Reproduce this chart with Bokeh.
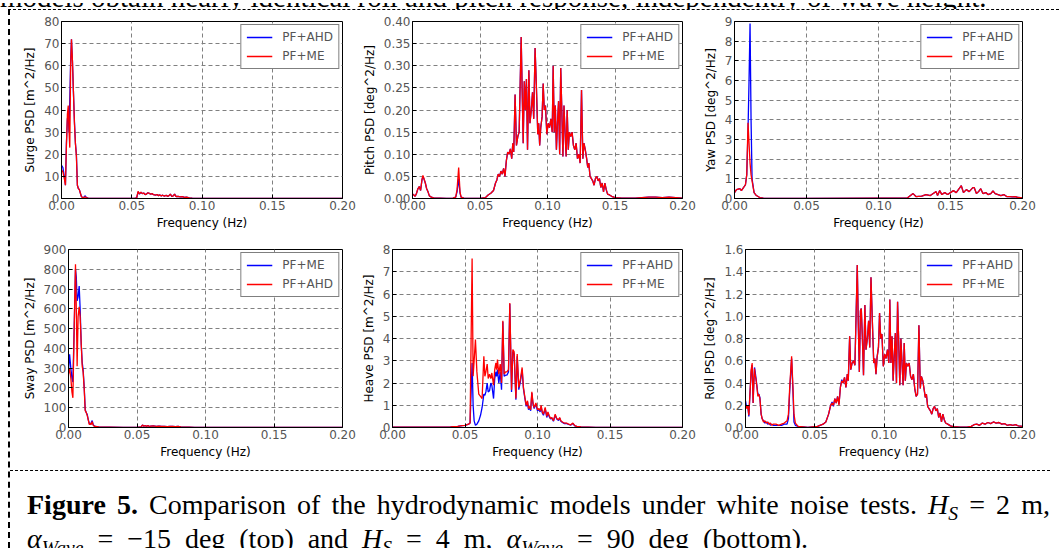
from bokeh.plotting import figure
from bokeh.models import Range1d, FixedTicker, NumeralTickFormatter, Legend, LegendItem, Div, Spacer
from bokeh.layouts import row, column
from bokeh.embed import file_html
from bokeh.resources import INLINE

# ---------------- data ----------------
x_ticks = [0.0, 0.05, 0.10, 0.15, 0.20]

surge_f = [0.0, 0.001, 0.002, 0.0028, 0.0035, 0.0042, 0.0048, 0.0054, 0.0059, 0.0065, 0.0071, 0.0078,
           0.0085, 0.0092, 0.0099, 0.0106, 0.0113, 0.012, 0.0127, 0.0134, 0.0141, 0.0148, 0.0155, 0.0162,
           0.0169, 0.0176, 0.019, 0.022, 0.03, 0.04, 0.05, 0.052, 0.0535, 0.0545, 0.0555, 0.0565, 0.0575,
           0.0585, 0.0595, 0.0605, 0.0615, 0.0625, 0.0635, 0.0645, 0.0655, 0.067, 0.068, 0.069, 0.070,
           0.071, 0.072, 0.073, 0.0745, 0.0755, 0.0765, 0.0775, 0.0785, 0.0795, 0.0805, 0.0815, 0.083,
           0.0845, 0.086, 0.0875, 0.089, 0.091, 0.093, 0.097, 0.12, 0.16, 0.2]
surge_ahd = [15, 14, 10, 6, 25, 36, 38, 30, 45, 62, 72, 62, 48, 35, 25, 20, 6, 4.5, 4, 2.5, 1, 0.5, 0.4,
             0.8, 1.2, 0.5, 0.2, 0.1, 0.05, 0.05, 0.05, 0.1, 0.3, 3.0, 2.0, 2.8, 2.2, 2.5, 1.8, 2.0, 2.6,
             2.3, 2.0, 2.2, 1.7, 1.5, 1.8, 1.3, 1.6, 1.2, 1.5, 1.1, 1.4, 1.0, 1.3, 2.0, 0.9, 1.2, 2.0, 0.9,
             1.0, 0.7, 0.8, 0.5, 0.6, 0.3, 0.15, 0.05, 0.02, 0.01, 0.01]
surge_me = [13, 12, 9, 6, 24, 38, 42, 30, 23, 60, 72, 62, 48, 34, 25, 19, 6, 4.5, 4, 2.5, 1, 0.5, 0.3,
            0.6, 0.8, 0.4, 0.2, 0.1, 0.05, 0.05, 0.05, 0.1, 0.3, 3.2, 2.1, 2.9, 2.2, 2.5, 1.8, 2.0, 2.6,
            2.3, 2.0, 2.2, 1.7, 1.5, 1.8, 1.3, 1.6, 1.2, 1.5, 1.1, 1.4, 1.0, 1.3, 2.0, 0.9, 1.2, 2.0, 0.9,
            1.0, 0.7, 0.8, 0.5, 0.6, 0.3, 0.15, 0.05, 0.02, 0.01, 0.01]
surge_yticks = [0, 10, 20, 30, 40, 50, 60, 70, 80]

pitch_f = [0.0, 0.001, 0.002, 0.003, 0.004, 0.005, 0.006, 0.007, 0.0077, 0.0085, 0.0095, 0.0105, 0.0115,
           0.0125, 0.014, 0.016, 0.020, 0.025, 0.030, 0.032, 0.033, 0.0342, 0.0352, 0.036, 0.038, 0.045,
           0.050, 0.054, 0.056, 0.058, 0.060, 0.0615, 0.0625, 0.0635, 0.0645, 0.0655, 0.0665, 0.0675,
           0.0685, 0.0695, 0.0705, 0.0715, 0.0725, 0.0735, 0.0743, 0.0750, 0.0760, 0.0770, 0.0780,
           0.0790, 0.0805, 0.0812, 0.0820, 0.0828, 0.0836, 0.0844, 0.0852, 0.0862, 0.0870, 0.0880,
           0.0889, 0.0898, 0.0908, 0.0918, 0.0928, 0.0935, 0.0942, 0.0950, 0.0960, 0.0968, 0.0976,
           0.0985, 0.0995, 0.1005, 0.1015, 0.1025, 0.1035, 0.1042, 0.1050, 0.1058, 0.1066, 0.1074,
           0.1082, 0.1090, 0.1098, 0.1106, 0.1114, 0.1122, 0.1130, 0.1138, 0.1146, 0.1154, 0.1162,
           0.1172, 0.1182, 0.1192, 0.1202, 0.1212, 0.1222, 0.1232, 0.1242, 0.1252, 0.1262, 0.1270,
           0.1280, 0.1290, 0.1298, 0.1306, 0.1315, 0.1325, 0.1335, 0.1345, 0.1355, 0.1365, 0.1375,
           0.1385, 0.1395, 0.1405, 0.1415, 0.1425, 0.1435, 0.1445, 0.1460, 0.1480, 0.1500, 0.1550,
           0.1600, 0.1650, 0.1700, 0.1750, 0.1800, 0.1850, 0.1900, 0.1950, 0.2000]
pitch_ahd = [0.010, 0.008, 0.005, 0.012, 0.022, 0.027, 0.018, 0.042, 0.050, 0.044, 0.035, 0.022, 0.015,
             0.006, 0.003, 0.001, 0.001, 0.000, 0.001, 0.003, 0.015, 0.045, 0.012, 0.003, 0.001, 0.000,
             0.000, 0.002, 0.008, 0.012, 0.018, 0.035, 0.042, 0.055, 0.050, 0.062, 0.055, 0.068, 0.050,
             0.085, 0.105, 0.100, 0.112, 0.090, 0.125, 0.105, 0.235, 0.120, 0.140, 0.150, 0.365, 0.250,
             0.125, 0.265, 0.200, 0.270, 0.110, 0.290, 0.170, 0.200, 0.240, 0.180, 0.340, 0.250, 0.145,
             0.170, 0.120, 0.160, 0.185, 0.260, 0.200, 0.210, 0.145, 0.170, 0.160, 0.180, 0.150, 0.300,
             0.150, 0.210, 0.110, 0.170, 0.220, 0.100, 0.295, 0.200, 0.095, 0.210, 0.150, 0.095, 0.200,
             0.110, 0.150, 0.140, 0.150, 0.120, 0.110, 0.125, 0.090, 0.100, 0.080, 0.245, 0.090, 0.125,
             0.110, 0.090, 0.070, 0.080, 0.050, 0.045, 0.040, 0.030, 0.045, 0.050, 0.040, 0.045, 0.025,
             0.035, 0.015, 0.035, 0.020, 0.010, 0.008, 0.004, 0.002, 0.001, 0.001, 0.001, 0.002, 0.003,
             0.003, 0.002, 0.003, 0.002, 0.001]
pitch_me = [0.010, 0.008, 0.005, 0.012, 0.022, 0.027, 0.018, 0.042, 0.052, 0.045, 0.035, 0.022, 0.015,
            0.006, 0.003, 0.001, 0.001, 0.000, 0.001, 0.003, 0.020, 0.070, 0.015, 0.003, 0.001, 0.000,
            0.000, 0.002, 0.008, 0.012, 0.018, 0.035, 0.042, 0.055, 0.050, 0.062, 0.055, 0.068, 0.050,
            0.085, 0.105, 0.100, 0.112, 0.090, 0.125, 0.105, 0.235, 0.120, 0.140, 0.150, 0.365, 0.250,
            0.125, 0.265, 0.200, 0.270, 0.110, 0.290, 0.170, 0.200, 0.240, 0.180, 0.340, 0.250, 0.145,
            0.170, 0.120, 0.160, 0.185, 0.260, 0.200, 0.210, 0.145, 0.170, 0.160, 0.180, 0.150, 0.300,
            0.150, 0.210, 0.110, 0.170, 0.220, 0.100, 0.295, 0.200, 0.095, 0.210, 0.150, 0.095, 0.200,
            0.110, 0.150, 0.140, 0.150, 0.120, 0.110, 0.125, 0.090, 0.100, 0.080, 0.245, 0.090, 0.125,
            0.110, 0.090, 0.070, 0.080, 0.050, 0.045, 0.040, 0.030, 0.045, 0.050, 0.040, 0.045, 0.025,
            0.035, 0.015, 0.035, 0.020, 0.010, 0.008, 0.004, 0.002, 0.001, 0.001, 0.001, 0.002, 0.003,
            0.003, 0.002, 0.003, 0.002, 0.001]
pitch_yticks = [0.0, 0.05, 0.10, 0.15, 0.20, 0.25, 0.30, 0.35, 0.40]

yaw_f = [0.0, 0.0014, 0.0037, 0.0048, 0.0067, 0.0076, 0.0085, 0.0094, 0.0101, 0.0108, 0.0115, 0.0122,
         0.0136, 0.0152, 0.0175, 0.020, 0.05, 0.10, 0.120, 0.124, 0.126, 0.130, 0.133, 0.136, 0.138,
         0.140, 0.141, 0.1425, 0.144, 0.146, 0.148, 0.150, 0.152, 0.154, 0.1555, 0.1575, 0.159, 0.161,
         0.163, 0.1655, 0.1665, 0.168, 0.1695, 0.171, 0.1725, 0.1745, 0.176, 0.178, 0.1795, 0.181,
         0.183, 0.185, 0.187, 0.189, 0.191, 0.193, 0.195, 0.197, 0.200]
yaw_ahd = [0.3, 0.45, 0.5, 0.4, 0.6, 0.7, 1.2, 3.5, 6.0, 8.9, 4.0, 1.0, 0.3, 0.15, 0.05, 0.02, 0.01,
           0.02, 0.02, 0.25, 0.1, 0.12, 0.2, 0.15, 0.25, 0.35, 0.15, 0.4, 0.2, 0.3, 0.2, 0.3, 0.4, 0.3,
           0.45, 0.65, 0.3, 0.45, 0.35, 0.55, 0.55, 0.25, 0.35, 0.5, 0.25, 0.3, 0.2, 0.25, 0.38, 0.25,
           0.2, 0.15, 0.2, 0.1, 0.1, 0.08, 0.1, 0.05, 0.03]
yaw_me = [0.3, 0.45, 0.5, 0.4, 0.6, 0.7, 1.2, 3.85, 2.8, 1.8, 1.2, 0.9, 0.3, 0.15, 0.05, 0.02, 0.01,
          0.02, 0.02, 0.25, 0.1, 0.12, 0.2, 0.15, 0.25, 0.35, 0.15, 0.4, 0.2, 0.3, 0.2, 0.3, 0.4, 0.3,
          0.45, 0.65, 0.3, 0.45, 0.35, 0.55, 0.55, 0.25, 0.35, 0.5, 0.25, 0.3, 0.2, 0.25, 0.38, 0.25,
          0.2, 0.15, 0.2, 0.1, 0.1, 0.08, 0.1, 0.05, 0.03]
yaw_yticks = [0, 1, 2, 3, 4, 5, 6, 7, 8, 9]

sway_f = [0.0, 0.0008, 0.0017, 0.0025, 0.0032, 0.0042, 0.0051, 0.0057, 0.0063, 0.0070, 0.0078, 0.0085,
          0.0093, 0.0100, 0.0107, 0.0115, 0.0122, 0.0130, 0.0137, 0.0144, 0.0152, 0.0159, 0.0166, 0.0173,
          0.0180, 0.0188, 0.0198, 0.022, 0.026, 0.03, 0.04, 0.05, 0.053, 0.054, 0.055, 0.056, 0.057,
          0.058, 0.059, 0.06, 0.062, 0.064, 0.066, 0.068, 0.07, 0.072, 0.074, 0.076, 0.078, 0.08, 0.082,
          0.085, 0.088, 0.092, 0.1, 0.12, 0.15, 0.18, 0.2]
sway_me = [290, 370, 300, 250, 230, 520, 800, 760, 640, 660, 715, 600, 420, 330, 290, 200, 90, 75, 65,
           40, 20, 15, 25, 35, 15, 8, 5, 3, 2, 2, 1, 1, 3, 12, 7, 9, 6, 10, 5, 7, 8, 6, 7, 5, 6, 4, 5, 6,
           4, 5, 3, 2, 2, 1, 1, 1, 0.5, 0.5, 0.5]
sway_ahd = [270, 300, 250, 180, 150, 520, 825, 600, 310, 560, 610, 560, 420, 310, 280, 190, 85, 75, 60,
            40, 15, 20, 15, 30, 12, 6, 5, 3, 2, 2, 1, 1, 3, 12, 7, 9, 6, 10, 5, 7, 8, 6, 7, 5, 6, 4, 5, 6,
            4, 5, 3, 2, 2, 1, 1, 1, 0.5, 0.5, 0.5]
sway_yticks = [0, 100, 200, 300, 400, 500, 600, 700, 800, 900]

heave_f = [0.0, 0.01, 0.02, 0.03, 0.04, 0.045, 0.048, 0.0500, 0.0525, 0.0535, 0.0549, 0.0556, 0.0563,
           0.0572, 0.0582, 0.0595, 0.0607, 0.0618, 0.0630, 0.0637, 0.0644, 0.0653, 0.0660, 0.0669,
           0.0678, 0.0685, 0.0697, 0.0705, 0.0713, 0.0718, 0.0724, 0.0733, 0.0743, 0.0752, 0.0761,
           0.0770, 0.0780, 0.0789, 0.0800, 0.0809, 0.0821, 0.0830, 0.0839, 0.0851, 0.0860, 0.0871,
           0.0883, 0.0894, 0.0903, 0.0912, 0.0922, 0.0931, 0.0938, 0.0945, 0.0953, 0.0961, 0.0969,
           0.0977, 0.0989, 0.1000, 0.1010, 0.1018, 0.1025, 0.1033, 0.1041, 0.1053, 0.1064, 0.1072,
           0.1080, 0.1090, 0.1099, 0.1110, 0.1122, 0.1133, 0.1145, 0.1153, 0.1161, 0.1172, 0.1184,
           0.1200, 0.1214, 0.1230, 0.1244, 0.1257, 0.1271, 0.130, 0.135, 0.14, 0.16, 0.2]
heave_ahd = [0.02, 0.02, 0.02, 0.02, 0.03, 0.05, 0.08, 0.10, 0.15, 0.2, 2.9, 1.0, 0.3, 0.1, 0.15, 0.3,
             0.55, 0.9, 1.5, 1.45, 1.6, 2.0, 1.6, 1.65, 2.0, 1.9, 1.3, 2.2, 2.5, 2.3, 2.6, 2.0, 2.5, 1.7,
             4.75, 2.3, 2.35, 2.35, 2.5, 5.55, 1.6, 3.4, 3.3, 1.25, 3.2, 1.7, 2.1, 2.6, 1.75, 1.35, 0.95,
             1.15, 0.8, 0.9, 0.75, 1.55, 1.05, 0.85, 1.05, 0.75, 0.8, 0.7, 0.95, 0.65, 0.55, 0.85, 0.45,
             0.65, 0.5, 0.38, 0.42, 0.28, 0.55, 0.38, 0.32, 0.42, 0.28, 0.23, 0.18, 0.18, 0.14, 0.11,
             0.18, 0.07, 0.05, 0.03, 0.02, 0.01, 0.01, 0.01]
heave_me = [0.02, 0.02, 0.02, 0.02, 0.03, 0.05, 0.08, 0.10, 0.15, 0.2, 7.6, 2.3, 3.0, 3.95, 2.5, 1.5,
            1.4, 1.3, 3.2, 2.3, 2.5, 2.85, 2.2, 2.4, 2.2, 2.45, 1.9, 2.6, 2.9, 2.6, 3.05, 2.4, 2.85, 2.0,
            4.8, 2.4, 2.5, 2.5, 2.6, 5.6, 1.7, 3.5, 3.4, 1.3, 3.3, 1.8, 2.2, 2.7, 1.8, 1.4, 1.0, 1.2,
            0.85, 0.95, 0.8, 1.6, 1.1, 0.9, 1.1, 0.8, 0.85, 0.75, 1.0, 0.7, 0.6, 0.9, 0.5, 0.7, 0.55,
            0.4, 0.45, 0.3, 0.6, 0.4, 0.35, 0.45, 0.3, 0.25, 0.2, 0.2, 0.15, 0.12, 0.2, 0.08, 0.05,
            0.03, 0.02, 0.01, 0.01, 0.01]
heave_yticks = [0, 1, 2, 3, 4, 5, 6, 7, 8]

roll_f = [0.0, 0.0008, 0.0016, 0.0024, 0.0032, 0.0041, 0.0048, 0.0055, 0.0060, 0.0065, 0.0070, 0.0075,
          0.0082, 0.0089, 0.0096, 0.0104, 0.0113, 0.0120, 0.0130, 0.0140, 0.0150, 0.0160, 0.0170,
          0.0180, 0.0190, 0.0200, 0.0220, 0.0240, 0.0260, 0.0280, 0.0300, 0.0310, 0.0320, 0.0333,
          0.0342, 0.0350, 0.0360, 0.0380, 0.0450, 0.0520, 0.0560, 0.0580, 0.0600, 0.0615, 0.0625,
          0.0635, 0.0645, 0.0655, 0.0665, 0.0675, 0.0685, 0.0695, 0.0705, 0.0715, 0.0725, 0.0735,
          0.0742, 0.0752, 0.0760, 0.0770, 0.0780, 0.0790, 0.0807, 0.0814, 0.0822, 0.0830, 0.0836,
          0.0844, 0.0852, 0.0862, 0.0870, 0.0880, 0.0889, 0.0897, 0.0906, 0.0916, 0.0926, 0.0934,
          0.0942, 0.0950, 0.0960, 0.0968, 0.0976, 0.0985, 0.0995, 0.1005, 0.1015, 0.1025, 0.1035,
          0.1042, 0.1050, 0.1058, 0.1066, 0.1074, 0.1082, 0.1090, 0.1098, 0.1106, 0.1114, 0.1122,
          0.1130, 0.1138, 0.1146, 0.1154, 0.1162, 0.1172, 0.1182, 0.1192, 0.1202, 0.1212, 0.1222,
          0.1232, 0.1242, 0.1252, 0.1262, 0.1270, 0.1280, 0.1290, 0.1298, 0.1306, 0.1315, 0.1325,
          0.1335, 0.1345, 0.1355, 0.1365, 0.1375, 0.1385, 0.1395, 0.1405, 0.1415, 0.1425, 0.1435,
          0.1445, 0.1460, 0.1480, 0.1500, 0.1550, 0.1600, 0.1630, 0.1650, 0.1670, 0.1690, 0.1710,
          0.1730, 0.1750, 0.1770, 0.1790, 0.1810, 0.1830, 0.1850, 0.1870, 0.1890, 0.1910, 0.1930,
          0.1950, 0.1970, 0.2000]
roll_ahd = [0.24, 0.18, 0.20, 0.10, 0.30, 0.50, 0.56, 0.22, 0.40, 0.54, 0.50, 0.45, 0.38, 0.30, 0.30,
            0.27, 0.12, 0.08, 0.06, 0.04, 0.05, 0.03, 0.04, 0.02, 0.03, 0.02, 0.02, 0.02, 0.02, 0.03,
            0.03, 0.08, 0.35, 0.62, 0.35, 0.05, 0.02, 0.01, 0.00, 0.01, 0.03, 0.05, 0.12, 0.20, 0.23,
            0.19, 0.26, 0.22, 0.28, 0.21, 0.36, 0.43, 0.40, 0.45, 0.36, 0.48, 0.42, 0.82, 0.52, 0.58,
            0.60, 0.56, 1.46, 0.95, 0.50, 1.05, 1.07, 0.80, 0.47, 1.10, 0.70, 0.80, 0.96, 0.72, 1.35,
            0.95, 0.58, 0.62, 0.48, 0.63, 0.72, 1.03, 0.80, 0.84, 0.55, 0.66, 0.62, 0.70, 0.58, 1.15,
            0.58, 0.82, 0.42, 0.65, 0.85, 0.40, 1.13, 0.78, 0.38, 0.80, 0.58, 0.38, 0.76, 0.42, 0.58,
            0.55, 0.58, 0.46, 0.43, 0.48, 0.35, 0.28, 0.30, 0.92, 0.35, 0.46, 0.42, 0.34, 0.27, 0.30,
            0.19, 0.17, 0.15, 0.12, 0.17, 0.19, 0.15, 0.17, 0.09, 0.13, 0.05, 0.12, 0.07, 0.04, 0.03,
            0.015, 0.008, 0.003, 0.004, 0.010, 0.025, 0.030, 0.020, 0.040, 0.030, 0.045, 0.035, 0.050,
            0.040, 0.045, 0.030, 0.035, 0.020, 0.025, 0.020, 0.025, 0.015, 0.010]
roll_me = [0.20, 0.17, 0.20, 0.11, 0.30, 0.52, 0.58, 0.22, 0.40, 0.53, 0.47, 0.44, 0.37, 0.28, 0.30,
           0.26, 0.12, 0.08, 0.05, 0.06, 0.04, 0.05, 0.03, 0.04, 0.02, 0.03, 0.03, 0.02, 0.03, 0.04,
           0.06, 0.12, 0.38, 0.64, 0.38, 0.12, 0.04, 0.01, 0.00, 0.01, 0.03, 0.05, 0.12, 0.20, 0.22,
           0.20, 0.26, 0.22, 0.28, 0.20, 0.36, 0.42, 0.40, 0.45, 0.36, 0.48, 0.42, 0.82, 0.52, 0.58,
           0.60, 0.56, 1.46, 0.95, 0.50, 1.05, 1.07, 0.80, 0.47, 1.10, 0.70, 0.80, 0.96, 0.72, 1.35,
           0.95, 0.58, 0.62, 0.48, 0.63, 0.72, 1.03, 0.80, 0.84, 0.55, 0.66, 0.62, 0.70, 0.58, 1.15,
           0.58, 0.82, 0.42, 0.65, 0.85, 0.40, 1.13, 0.78, 0.38, 0.80, 0.58, 0.38, 0.76, 0.42, 0.58,
           0.55, 0.58, 0.46, 0.43, 0.48, 0.35, 0.28, 0.30, 0.92, 0.35, 0.46, 0.42, 0.34, 0.27, 0.30,
           0.19, 0.17, 0.15, 0.12, 0.17, 0.19, 0.15, 0.17, 0.09, 0.13, 0.05, 0.12, 0.07, 0.04, 0.03,
           0.015, 0.008, 0.003, 0.004, 0.010, 0.025, 0.030, 0.020, 0.040, 0.030, 0.045, 0.035, 0.050,
           0.040, 0.045, 0.030, 0.035, 0.020, 0.025, 0.020, 0.025, 0.015, 0.010]
roll_yticks = [0.0, 0.2, 0.4, 0.6, 0.8, 1.0, 1.2, 1.4, 1.6]

top_text = "models obtain nearly identical roll and pitch response, independently of wave height."

SUB = '<sub style="font-size:70%;line-height:0;vertical-align:-0.32em">'
caption_line1 = ('<b>Figure 5.</b> Comparison of the hydrodynamic models under white noise tests. '
                 '<i>H' + SUB + 'S</sub></i> = 2 m,')
caption_line2 = ('<i>&alpha;' + SUB + 'Wave</sub></i> = &minus;15 deg (top) and '
                 '<i>H' + SUB + 'S</sub></i> = 4 m, '
                 '<i>&alpha;' + SUB + 'Wave</sub></i> = 90 deg (bottom).')

SERIF = "'Liberation Serif','Times New Roman',serif"

top_html = (
    '<div style="position:relative;width:1059px;height:9px;overflow:hidden;">'
    '<div style="position:absolute;left:0px;top:-22px;font-family:' + SERIF + ';font-size:29px;'
    'line-height:32px;white-space:nowrap;color:#000;">' + top_text + '</div></div>'
)

caption_html = (
    '<div style="border-top:1px dashed #000;height:78px;box-sizing:border-box;overflow:hidden;'
    'font-family:' + SERIF + ';font-size:28px;line-height:34px;white-space:nowrap;'
    'padding:17px 0 0 17px;color:#000;">'
    '<div style="width:1023px;text-align:justify;text-align-last:justify;">' + caption_line1 + '</div>'
    '<div style="width:781px;text-align:justify;text-align-last:justify;">' + caption_line2 + '</div>'
    '</div>'
)

FONT = "DejaVu Sans"


def make_panel(f, y_blue, y_red, lab_blue, lab_red, ymax, yticks, yfmt, ylabel,
               width, height, bl, br, bt, bb):
    p = figure(width=width, height=height, x_range=Range1d(0, 0.2), y_range=Range1d(0, ymax),
               output_backend="svg", toolbar_location=None,
               min_border_left=bl, min_border_right=br, min_border_top=bt, min_border_bottom=bb)
    p.outline_line_color = "black"
    p.outline_line_width = 1
    p.outline_line_alpha = 1
    p.background_fill_color = "white"
    p.border_fill_color = "white"

    rb = p.line(f, y_blue, line_color="#0000ff", line_width=1.3)
    rr = p.line(f, y_red, line_color="#ff0000", line_width=1.3)

    p.xaxis.ticker = FixedTicker(ticks=x_ticks)
    p.yaxis.ticker = FixedTicker(ticks=yticks)
    p.xaxis.formatter = NumeralTickFormatter(format="0.00")
    p.yaxis.formatter = NumeralTickFormatter(format=yfmt)
    p.xaxis.axis_label = "Frequency (Hz)"
    p.yaxis.axis_label = ylabel
    for ax in (p.xaxis, p.yaxis):
        ax.axis_label_text_font = FONT
        ax.axis_label_text_font_size = "12px"
        ax.axis_label_text_font_style = "normal"
        ax.axis_label_text_color = "black"
        ax.major_label_text_font = FONT
        ax.major_label_text_font_size = "12px"
        ax.major_label_text_color = "#555555"
        ax.major_tick_in = 4
        ax.major_tick_out = 0
        ax.minor_tick_in = 0
        ax.minor_tick_out = 0
        ax.major_tick_line_color = "black"
        ax.axis_line_color = "black"
        ax.major_label_standoff = 2
        ax.axis_label_standoff = 4
    p.xaxis.axis_label_standoff = 3

    for g in (p.xgrid, p.ygrid):
        g.grid_line_color = "#808080"
        g.grid_line_dash = "4 3"
        g.grid_line_width = 1

    legend = Legend(items=[LegendItem(label=lab_blue, renderers=[rb]),
                           LegendItem(label=lab_red, renderers=[rr])],
                    location="top_right")
    legend.label_text_font = FONT
    legend.label_text_font_size = "12px"
    legend.label_text_color = "#555555"
    legend.border_line_color = "black"
    legend.border_line_width = 1
    legend.background_fill_color = "white"
    legend.background_fill_alpha = 1
    legend.glyph_width = 26
    legend.glyph_height = 14
    legend.label_height = 14
    legend.label_standoff = 10
    legend.spacing = 5
    legend.padding = 5
    legend.margin = 3
    p.add_layout(legend)
    return p


surge = make_panel(surge_f, surge_ahd, surge_me, "PF+AHD", "PF+ME", 80, surge_yticks, "0",
                   "Surge PSD [m^2/Hz]", 347, 225, 51, 15, 11, 37)
pitch = make_panel(pitch_f, pitch_ahd, pitch_me, "PF+AHD", "PF+ME", 0.4, pitch_yticks, "0.00",
                   "Pitch PSD [deg^2/Hz]", 343, 225, 55, 18, 11, 37)
yaw = make_panel(yaw_f, yaw_ahd, yaw_me, "PF+AHD", "PF+ME", 9, yaw_yticks, "0",
                 "Yaw PSD [deg^2/Hz]", 359, 225, 33, 37, 11, 37)
sway = make_panel(sway_f, sway_me, sway_ahd, "PF+ME", "PF+AHD", 900, sway_yticks, "0",
                  "Sway PSD [m^2/Hz]", 347, 235, 58, 15, 14, 43)
heave = make_panel(heave_f, heave_ahd, heave_me, "PF+AHD", "PF+ME", 8, heave_yticks, "0",
                   "Heave PSD [m^2/Hz]", 343, 235, 35, 18, 14, 43)
roll = make_panel(roll_f, roll_ahd, roll_me, "PF+AHD", "PF+ME", 1.6, roll_yticks, "0.0",
                  "Roll PSD [deg^2/Hz]", 359, 235, 45, 37, 14, 43)

top_div = Div(text=top_html, width=1059, height=9, margin=0)
caption = Div(text=caption_html, width=1049, height=78, margin=0)

main = column(row(surge, pitch, yaw, spacing=0), row(sway, heave, roll, spacing=0), caption,
              spacing=0,
              styles={"border-left": "2px dashed #000", "border-top": "1px dashed #000",
                      "background-color": "white"})

page = column(top_div, row(Spacer(width=8, height=538, margin=0), main, spacing=0), spacing=0)

open("out.html", "w").write(file_html(page, INLINE, title="Figure 5"))
